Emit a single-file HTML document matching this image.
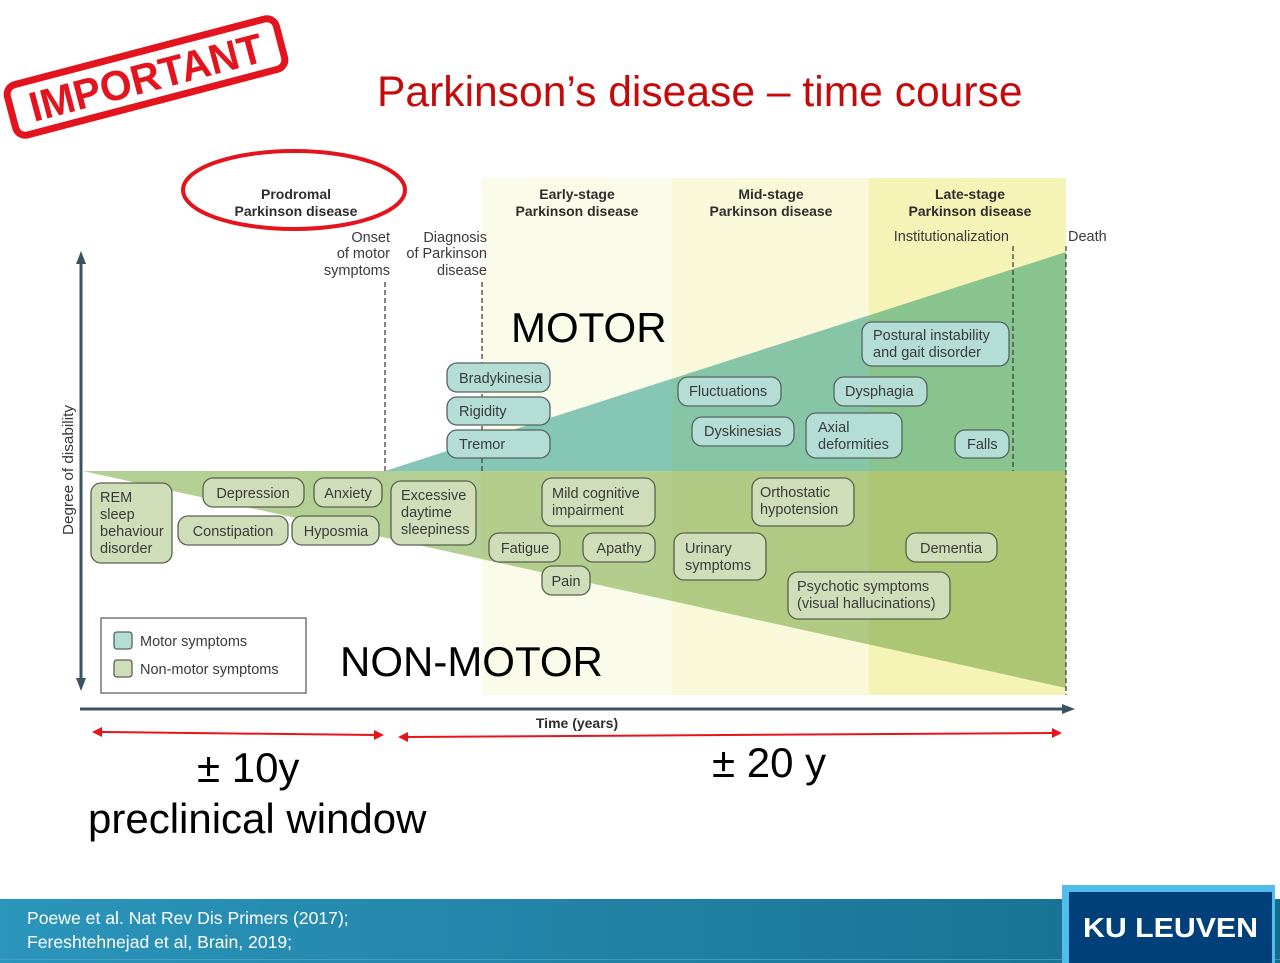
<!DOCTYPE html>
<html><head><meta charset="utf-8"><style>
html,body{margin:0;padding:0;background:#fff;width:1280px;height:963px;overflow:hidden}
svg{display:block}
.f{font-family:"Liberation Sans",Arial,sans-serif}
.lb{font-family:"Liberation Sans",Arial,sans-serif;font-size:14.5px;fill:#3a3a3a}
.hd{font-family:"Liberation Sans",Arial,sans-serif;font-size:14px;font-weight:bold;fill:#2e2e2e}
.mb{fill:#b3ddd5;stroke:#56635f;stroke-width:1.3}
.nb{fill:#cfdeb8;stroke:#58604f;stroke-width:1.3}
.dl{stroke:#444;stroke-width:1.3;stroke-dasharray:5,3;fill:none}
</style></head><body>
<svg width="1280" height="963" viewBox="0 0 1280 963" xmlns="http://www.w3.org/2000/svg">
<defs>
<clipPath id="cP"><rect x="0" y="0" width="482" height="963"/></clipPath>
<clipPath id="cE"><rect x="482" y="0" width="190" height="963"/></clipPath>
<clipPath id="cM"><rect x="672" y="0" width="197" height="963"/></clipPath>
<clipPath id="cL"><rect x="869" y="0" width="197" height="963"/></clipPath>
<linearGradient id="ft" x1="0" y1="0" x2="1" y2="0">
<stop offset="0" stop-color="#2b95bb"/><stop offset="1" stop-color="#166c8c"/>
</linearGradient>
</defs>

<!-- IMPORTANT stamp -->
<g transform="rotate(-14.7 146 77)">
<rect x="7" y="51" width="278" height="52" rx="10" fill="none" stroke="#e3141e" stroke-width="7"/>
<text x="146" y="92" text-anchor="middle" class="f" font-size="42" font-weight="bold" fill="#e3141e" textLength="240" lengthAdjust="spacingAndGlyphs">IMPORTANT</text>
</g>

<!-- Title -->
<text x="377" y="106" class="f" font-size="42.6" fill="#c40a0a">Parkinson’s disease – time course</text>

<!-- stage columns -->
<rect x="482" y="178" width="190" height="517" fill="#fbfbe9"/>
<rect x="672" y="178" width="197" height="517" fill="#f9f8d8"/>
<rect x="869" y="178" width="197" height="517" fill="#f6f3b6"/>

<!-- motor / non-motor areas -->
<g clip-path="url(#cP)">
<polygon points="385,471 1066,252 1066,471" fill="#85c6b9"/>
<polygon points="83,471 1066,471 1066,688" fill="#b4cf93"/>
</g>
<g clip-path="url(#cE)">
<polygon points="385,471 1066,252 1066,471" fill="#86c6b5"/>
<polygon points="83,471 1066,471 1066,688" fill="#b2cd8c"/>
</g>
<g clip-path="url(#cM)">
<polygon points="385,471 1066,252 1066,471" fill="#87c5a7"/>
<polygon points="83,471 1066,471 1066,688" fill="#b0ca84"/>
</g>
<g clip-path="url(#cL)">
<polygon points="385,471 1066,252 1066,471" fill="#89c48f"/>
<polygon points="83,471 1066,471 1066,688" fill="#adc674"/>
</g>

<!-- ellipse -->
<ellipse cx="294" cy="190" rx="111" ry="39" fill="none" stroke="#e3141e" stroke-width="4"/>

<!-- headers -->
<text class="hd" text-anchor="middle" x="296" y="199">Prodromal</text>
<text class="hd" text-anchor="middle" x="296" y="216">Parkinson disease</text>
<text class="hd" text-anchor="middle" x="577" y="199">Early-stage</text>
<text class="hd" text-anchor="middle" x="577" y="216">Parkinson disease</text>
<text class="hd" text-anchor="middle" x="771" y="199">Mid-stage</text>
<text class="hd" text-anchor="middle" x="771" y="216">Parkinson disease</text>
<text class="hd" text-anchor="middle" x="970" y="199">Late-stage</text>
<text class="hd" text-anchor="middle" x="970" y="216">Parkinson disease</text>

<text class="lb" text-anchor="end" x="390" y="242">Onset</text>
<text class="lb" text-anchor="end" x="390" y="258">of motor</text>
<text class="lb" text-anchor="end" x="390" y="275">symptoms</text>
<text class="lb" text-anchor="end" x="487" y="242">Diagnosis</text>
<text class="lb" text-anchor="end" x="487" y="258">of Parkinson</text>
<text class="lb" text-anchor="end" x="487" y="275">disease</text>
<text class="lb" text-anchor="end" x="1009" y="241">Institutionalization</text>
<text class="lb" x="1068" y="241">Death</text>

<!-- dashed lines -->
<line class="dl" x1="385" y1="282" x2="385" y2="471"/>
<line class="dl" x1="482" y1="282" x2="482" y2="471"/>
<line class="dl" x1="1013" y1="246" x2="1013" y2="471"/>
<line class="dl" x1="1066" y1="246" x2="1066" y2="695"/>

<!-- axes -->
<line x1="81" y1="262" x2="81" y2="680" stroke="#3d5260" stroke-width="3"/>
<polygon points="81,251 76,264 86,264" fill="#3d5260"/>
<polygon points="81,691 76,678 86,678" fill="#3d5260"/>
<line x1="80" y1="709" x2="1064" y2="709" stroke="#3d5260" stroke-width="3"/>
<polygon points="1075,709 1062,704 1062,714" fill="#3d5260"/>
<text class="f" x="577" y="728" text-anchor="middle" font-size="14" font-weight="bold" fill="#2e2e2e">Time (years)</text>
<text class="lb" transform="translate(73 470) rotate(-90)" text-anchor="middle" textLength="130" lengthAdjust="spacingAndGlyphs">Degree of disability</text>

<!-- Motor boxes -->
<rect class="mb" x="447" y="363" width="103" height="29" rx="10"/>
<text class="lb" x="459" y="383">Bradykinesia</text>
<rect class="mb" x="447" y="397" width="103" height="28" rx="10"/>
<text class="lb" x="459" y="416">Rigidity</text>
<rect class="mb" x="447" y="430" width="103" height="28" rx="10"/>
<text class="lb" x="459" y="449">Tremor</text>
<rect class="mb" x="678" y="377" width="103" height="29" rx="10"/>
<text class="lb" x="689" y="396">Fluctuations</text>
<rect class="mb" x="834" y="377" width="93" height="29" rx="10"/>
<text class="lb" x="845" y="396">Dysphagia</text>
<rect class="mb" x="862" y="322" width="147" height="44" rx="10"/>
<text class="lb" x="873" y="340">Postural instability</text>
<text class="lb" x="873" y="357">and gait disorder</text>
<rect class="mb" x="692" y="417" width="102" height="29" rx="10"/>
<text class="lb" x="704" y="436">Dyskinesias</text>
<rect class="mb" x="806" y="413" width="96" height="45" rx="10"/>
<text class="lb" x="818" y="432">Axial</text>
<text class="lb" x="818" y="449">deformities</text>
<rect class="mb" x="955" y="430" width="54" height="28" rx="10"/>
<text class="lb" x="967" y="449">Falls</text>

<!-- Non-motor boxes -->
<rect class="nb" x="91" y="483" width="81" height="80" rx="10"/>
<text class="lb" x="100" y="502">REM</text>
<text class="lb" x="100" y="519">sleep</text>
<text class="lb" x="100" y="536">behaviour</text>
<text class="lb" x="100" y="553">disorder</text>
<rect class="nb" x="203" y="478" width="101" height="29" rx="10"/>
<text class="lb" x="253" y="498" text-anchor="middle">Depression</text>
<rect class="nb" x="314" y="478" width="68" height="29" rx="10"/>
<text class="lb" x="348" y="498" text-anchor="middle">Anxiety</text>
<rect class="nb" x="178" y="516" width="110" height="29" rx="10"/>
<text class="lb" x="233" y="536" text-anchor="middle">Constipation</text>
<rect class="nb" x="292" y="516" width="87" height="29" rx="10"/>
<text class="lb" x="336" y="536" text-anchor="middle">Hyposmia</text>
<rect class="nb" x="391" y="481" width="85" height="64" rx="10"/>
<text class="lb" x="401" y="500">Excessive</text>
<text class="lb" x="401" y="517">daytime</text>
<text class="lb" x="401" y="534">sleepiness</text>
<rect class="nb" x="542" y="478" width="113" height="48" rx="10"/>
<text class="lb" x="552" y="498">Mild cognitive</text>
<text class="lb" x="552" y="515">impairment</text>
<rect class="nb" x="489" y="533" width="71" height="29" rx="10"/>
<text class="lb" x="525" y="553" text-anchor="middle">Fatigue</text>
<rect class="nb" x="583" y="533" width="72" height="29" rx="10"/>
<text class="lb" x="619" y="553" text-anchor="middle">Apathy</text>
<rect class="nb" x="542" y="566" width="48" height="29" rx="10"/>
<text class="lb" x="566" y="586" text-anchor="middle">Pain</text>
<rect class="nb" x="674" y="533" width="92" height="47" rx="10"/>
<text class="lb" x="685" y="553">Urinary</text>
<text class="lb" x="685" y="570">symptoms</text>
<rect class="nb" x="752" y="478" width="102" height="48" rx="10"/>
<text class="lb" x="760" y="497">Orthostatic</text>
<text class="lb" x="760" y="514">hypotension</text>
<rect class="nb" x="906" y="533" width="91" height="29" rx="10"/>
<text class="lb" x="951" y="553" text-anchor="middle">Dementia</text>
<rect class="nb" x="788" y="572" width="162" height="47" rx="10"/>
<text class="lb" x="797" y="591">Psychotic symptoms</text>
<text class="lb" x="797" y="608">(visual hallucinations)</text>

<!-- Legend -->
<rect x="101" y="618" width="205" height="75" fill="#fff" stroke="#555" stroke-width="1.2"/>
<rect class="mb" x="114" y="632" width="18" height="17" rx="3"/>
<rect class="nb" x="114" y="660" width="18" height="17" rx="3"/>
<text class="lb" x="140" y="646">Motor symptoms</text>
<text class="lb" x="140" y="674">Non-motor symptoms</text>

<!-- Big labels -->
<text class="f" x="511" y="342" font-size="42" fill="#000">MOTOR</text>
<text class="f" x="340" y="676" font-size="42" fill="#000">NON-MOTOR</text>

<!-- Red arrows -->
<line x1="100" y1="732" x2="375" y2="735" stroke="#e8141c" stroke-width="2"/>
<polygon points="92,732 102,727 102,737" fill="#e8141c"/>
<polygon points="384,735 374,730 374,740" fill="#e8141c"/>
<line x1="406" y1="737" x2="1054" y2="733" stroke="#e8141c" stroke-width="2"/>
<polygon points="398,737 408,732 408,742" fill="#e8141c"/>
<polygon points="1062,733 1052,728 1052,738" fill="#e8141c"/>

<text class="f" x="197" y="782" font-size="42" fill="#000">± 10y</text>
<text class="f" x="712" y="777" font-size="42" fill="#000">± 20 y</text>
<text class="f" x="88" y="833" font-size="42" fill="#000">preclinical window</text>

<!-- Footer -->
<rect x="0" y="899" width="1280" height="64" fill="url(#ft)"/>
<rect x="0" y="959" width="1280" height="1" fill="#5aaecb" opacity="0.6"/>
<text class="f" x="27" y="924" font-size="17.6" fill="#fff">Poewe et al. Nat Rev Dis Primers (2017);</text>
<text class="f" x="27" y="948" font-size="17.6" fill="#fff">Fereshtehnejad et al, Brain, 2019;</text>

<rect x="1062" y="885" width="213" height="78" fill="#52bdec"/>
<rect x="1069" y="892" width="203" height="71" fill="#00407a"/>
<text class="f" x="1083" y="937" font-size="28" font-weight="bold" fill="#fff" textLength="175" lengthAdjust="spacingAndGlyphs">KU LEUVEN</text>
</svg>
</body></html>
